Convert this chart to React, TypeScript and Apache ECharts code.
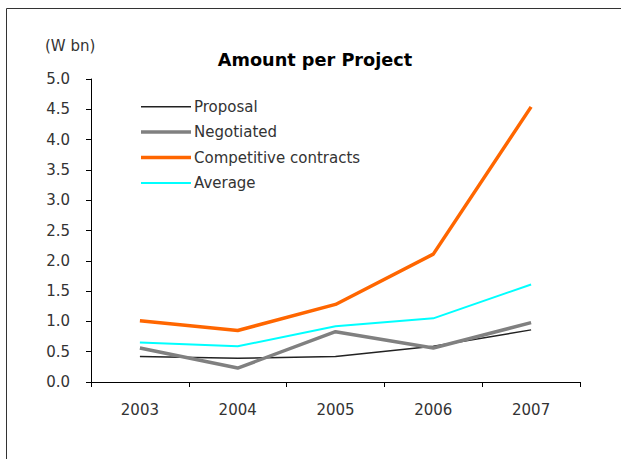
import React, { useEffect, useRef } from "react";
import * as echarts from "echarts";

const years = ["2003", "2004", "2005", "2006", "2007"];
const proposal = [0.42, 0.39, 0.42, 0.59, 0.86];
const negotiated = [0.56, 0.23, 0.83, 0.56, 0.98];
const competitive = [1.01, 0.85, 1.28, 2.11, 4.54];
const average = [0.65, 0.59, 0.92, 1.05, 1.61];
const yTicks = { min: 0, max: 5, interval: 0.5 };

const seriesNames = ["Proposal", "Negotiated", "Competitive contracts", "Average"];
const seriesData = [proposal, negotiated, competitive, average];
const seriesColors = ["#222222", "#808080", "#FF6600", "#00FFFF"];
const seriesWidths = [1.5, 3.5, 3.5, 2];

const FONT = "DejaVu Sans";
const TXT = "#333";

export default function App() {
  const ref = useRef<HTMLDivElement>(null);
  useEffect(() => {
    document.body.style.margin = "0";
    const chart = echarts.init(ref.current!, null, { renderer: "svg" });

    const legendX = 141;
    const legendY0 = 106.7;
    const legendGap = 25.4;
    const legendGraphics: any[] = [];
    seriesNames.forEach((name, i) => {
      const y = legendY0 + i * legendGap;
      legendGraphics.push({
        type: "line",
        shape: { x1: legendX, y1: y, x2: legendX + 50, y2: y },
        style: { stroke: seriesColors[i], lineWidth: seriesWidths[i] },
        silent: true,
      });
      legendGraphics.push({
        type: "text",
        x: legendX + 53,
        y: y,
        style: {
          text: name,
          fontSize: 15,
          fontFamily: FONT,
          fill: TXT,
          align: "left",
          verticalAlign: "middle",
        },
      });
    });

    chart.setOption({
      animation: false,
      backgroundColor: "#ffffff",
      textStyle: { fontFamily: FONT },
      grid: { left: 91, right: 41, top: 79, bottom: 77, containLabel: false },
      xAxis: {
        type: "category",
        data: years,
        boundaryGap: true,
        axisLine: { lineStyle: { color: "#000", width: 1 } },
        axisTick: { show: true, length: 5, inside: false, lineStyle: { color: "#000" } },
        axisLabel: { color: TXT, fontSize: 15, fontFamily: FONT, margin: 20 },
        splitLine: { show: false },
      },
      yAxis: {
        type: "value",
        min: yTicks.min,
        max: yTicks.max,
        interval: yTicks.interval,
        axisLine: { show: true, lineStyle: { color: "#000", width: 1 } },
        axisTick: { show: true, length: 5, inside: false, lineStyle: { color: "#000" } },
        axisLabel: {
          color: TXT,
          fontSize: 15,
          fontFamily: FONT,
          margin: 21,
          formatter: (v: number) => v.toFixed(1),
        },
        splitLine: { show: false },
      },
      graphic: [
        {
          type: "polyline",
          shape: { points: [[6.5, 459], [6.5, 8.5], [621, 8.5]] },
          style: { stroke: "#333", lineWidth: 1, fill: "none" },
          silent: true,
        },
        {
          type: "text",
          left: 45,
          top: 38,
          style: { text: "(W bn)", fontSize: 15, fontFamily: FONT, fill: TXT },
        },
        {
          type: "text",
          x: 315,
          y: 60,
          style: {
            text: "Amount per Project",
            fontSize: 17.7,
            fontWeight: "bold",
            fontFamily: FONT,
            fill: "#000",
            align: "center",
            verticalAlign: "middle",
          },
        },
        ...legendGraphics,
      ],
      series: seriesNames.map((name, i) => ({
        name,
        type: "line",
        data: seriesData[i],
        symbol: "none",
        lineStyle: { color: seriesColors[i], width: seriesWidths[i] },
        itemStyle: { color: seriesColors[i] },
      })),
    });
    return () => chart.dispose();
  }, []);
  return <div ref={ref} style={{ width: 621, height: 459 }} />;
}
